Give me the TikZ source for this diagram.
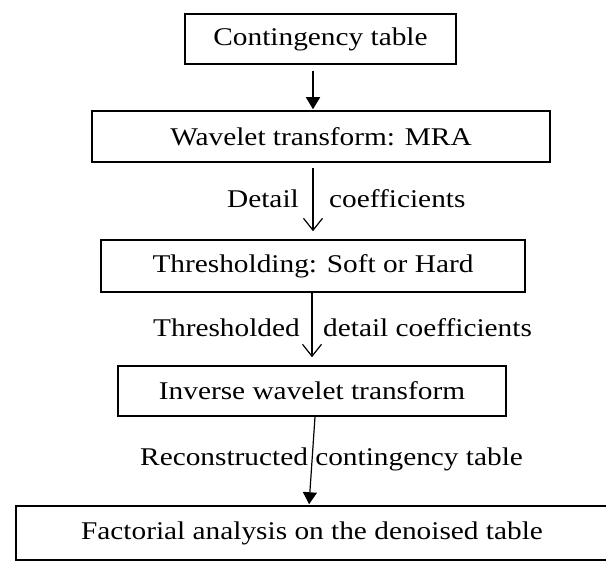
\documentclass[tikz,border=0pt]{standalone}
\usepackage{fontspec}
\setmainfont{Liberation Serif}[FakeStretch=1.15]
\usetikzlibrary{arrows.meta}
\begin{document}
\begin{tikzpicture}[x=1pt,y=-1pt,
  box/.style={draw, line width=1.5pt, inner sep=0pt, font=\fontsize{25.5}{30}\selectfont},
  lbl/.style={inner sep=0pt, font=\fontsize{25.5}{30}\selectfont},
  solidarrow/.style={line width=1.2pt, -{Triangle[length=12pt,width=14pt]}},
  openarrow/.style={line width=1.2pt, -{Straight Barb[length=12pt,width=19pt,line width=1.2pt]}}]
\path[use as bounding box] (0,0) rectangle (606,572);
% boxes
\node[box, minimum width=271pt, minimum height=50pt] (b1) at (320.5,39) {Contingency table};
\node[box, minimum width=458pt, minimum height=51pt] (b2) at (321,136.5) {Wavelet transform: MRA};
\node[box, minimum width=424pt, minimum height=52pt] (b3) at (313,266) {Thresholding: Soft or Hard};
\node[box, minimum width=388pt, minimum height=50pt] (b4) at (312,391) {Inverse wavelet transform};
\node[box, minimum width=592pt, minimum height=54pt] (b5) at (312,533) {Factorial analysis on the denoised table};
% labels
\node[lbl, anchor=base east] (l2a) at (299,208) {Detail};
\node[lbl, anchor=base west] (l2b) at (329,208) {coefficients};
\node[lbl, anchor=base east] (l3a) at (300,337) {Thresholded};
\node[lbl, anchor=base west] (l3b) at (323,337) {detail coefficients};
\node[lbl, anchor=base west] (l4) at (140,466) {Reconstructed contingency table};
% arrow columns
\coordinate (c1) at (313,0);
\coordinate (c2) at (313,0);
\coordinate (c3) at (312,0);
\coordinate (c4a) at (315,0);
\coordinate (c4b) at (309,0);
% connectors
\draw[solidarrow, shorten <=6pt, shorten >=1pt] (b1.south -| c1) -- (b2.north -| c1);
\draw[openarrow, shorten <=5pt, shorten >=8pt] (b2.south -| c2) -- (b3.north -| c2);
\draw[openarrow, shorten >=8pt] (b3.south -| c3) -- (b4.north -| c3);
\draw[solidarrow, shorten >=1pt] (b4.south -| c4a) -- (b5.north -| c4b);
\end{tikzpicture}
\end{document}
